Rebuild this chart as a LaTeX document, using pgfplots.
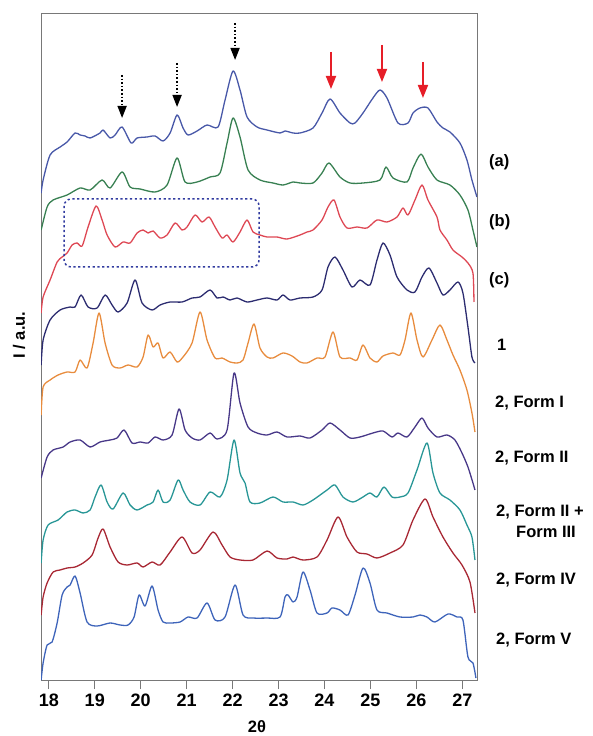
\documentclass[border=0pt]{standalone}
\usepackage{fontspec}
\setmainfont{Liberation Sans}
\usepackage{pgfplots}
\pgfplotsset{compat=1.18}
\usetikzlibrary{arrows.meta}
\definecolor{ca}{RGB}{72,88,168}
\definecolor{cb}{RGB}{56,128,82}
\definecolor{cc}{RGB}{222,72,84}
\definecolor{cd}{RGB}{44,44,112}
\definecolor{ce}{RGB}{232,140,62}
\definecolor{cf}{RGB}{72,56,136}
\definecolor{cg}{RGB}{40,150,150}
\definecolor{ch}{RGB}{168,40,52}
\definecolor{ci}{RGB}{62,100,186}
\definecolor{arrowred}{RGB}{230,30,40}
\definecolor{boxblue}{RGB}{50,60,160}
\definecolor{axisgray}{RGB}{120,120,120}
\begin{document}
\begin{tikzpicture}
\useasboundingbox (0,0) rectangle (592pt,736pt);
\begin{axis}[
  at={(41pt,56pt)}, anchor=south west,
  width=436pt, height=667pt, scale only axis,
  xmin=17.83, xmax=27.32, ymin=0, ymax=667,
  axis line style={draw=axisgray, line width=0.9pt},
  xtick={18,19,20,21,22,23,24,25,26,27}, ytick=\empty,
  xtick pos=bottom, xtick align=outside, major tick length=9pt,
  tick style={draw=axisgray, line width=0.9pt},
  /pgf/number format/assume math mode=true,
  xticklabel style={font=\fontsize{18}{18}\selectfont\bfseries, yshift=-1pt},
  every axis plot/.append style={line width=1.3pt, smooth, tension=0.45, line join=round},
]
% (a)
\addplot[ca] coordinates {(17.833,487)(17.876,500)(18.028,525)(18.246,533)(18.398,538)(18.572,547)(18.681,545)(18.790,544)(18.899,542)(19.116,547)(19.182,550)(19.334,542)(19.443,545)(19.595,553)(19.791,537)(19.921,542)(20.139,543)(20.313,544)(20.487,539)(20.640,547)(20.792,565)(20.922,552)(21.031,545)(21.227,549)(21.444,555)(21.684,553)(21.836,580)(22.010,609)(22.162,590)(22.315,563)(22.532,553)(22.750,550)(23.033,547)(23.141,549)(23.316,547)(23.468,547)(23.751,552)(23.947,567)(24.121,581)(24.338,567)(24.556,557)(24.665,557)(24.839,567)(25.056,582)(25.209,590)(25.361,582)(25.600,557)(25.818,557)(25.927,567)(26.079,572)(26.253,572)(26.449,558)(26.579,552)(26.731,548)(26.949,537)(27.101,520)(27.210,500)(27.319,483)};
% (b)
\addplot[cb] coordinates {(17.833,450)(17.963,473)(18.094,480)(18.398,485)(18.681,492)(18.899,490)(19.160,500)(19.334,492)(19.595,508)(19.769,493)(19.987,491)(20.313,488)(20.574,495)(20.792,522)(20.966,498)(21.227,498)(21.510,503)(21.727,507)(21.880,537)(22.010,562)(22.162,543)(22.337,510)(22.597,500)(22.880,497)(23.098,495)(23.316,498)(23.468,497)(23.751,497)(23.947,507)(24.099,517)(24.338,503)(24.556,497)(24.839,497)(25.209,500)(25.339,513)(25.492,502)(25.796,498)(25.927,512)(26.101,526)(26.253,513)(26.449,500)(26.731,495)(26.949,485)(27.123,470)(27.232,450)(27.319,433)};
% (c)
\addplot[cc] coordinates {(17.833,367)(17.876,383)(18.028,400)(18.181,418)(18.290,423)(18.398,427)(18.507,435)(18.616,437)(18.725,434)(18.855,453)(19.029,474)(19.160,460)(19.269,445)(19.443,433)(19.617,438)(19.769,437)(19.921,447)(20.052,450)(20.161,447)(20.270,449)(20.422,442)(20.574,445)(20.748,457)(20.900,450)(21.009,453)(21.183,465)(21.336,458)(21.488,463)(21.619,453)(21.771,442)(21.880,445)(22.010,438)(22.162,448)(22.315,460)(22.445,448)(22.597,445)(22.750,443)(22.967,443)(23.185,441)(23.468,445)(23.620,448)(23.751,450)(23.947,460)(24.077,473)(24.208,480)(24.338,463)(24.490,452)(24.708,453)(24.926,452)(25.143,460)(25.361,458)(25.579,463)(25.709,472)(25.818,465)(25.970,480)(26.123,495)(26.253,480)(26.449,463)(26.514,450)(26.666,440)(26.797,430)(26.993,423)(27.123,417)(27.232,407)(27.254,378)};
% 1
\addplot[cd] coordinates {(17.833,315)(17.876,340)(18.028,360)(18.246,370)(18.464,373)(18.572,373)(18.703,385)(18.855,373)(19.051,372)(19.225,385)(19.377,375)(19.508,368)(19.704,377)(19.878,400)(20.030,377)(20.248,370)(20.422,375)(20.640,378)(20.900,378)(21.118,382)(21.292,383)(21.510,390)(21.662,382)(21.793,383)(21.945,380)(22.097,382)(22.315,378)(22.532,380)(22.750,382)(22.967,380)(23.098,385)(23.250,380)(23.468,382)(23.751,383)(23.947,390)(24.077,413)(24.229,423)(24.403,410)(24.599,393)(24.773,400)(24.991,395)(25.143,420)(25.274,437)(25.426,425)(25.579,403)(25.796,390)(25.970,388)(26.123,403)(26.275,412)(26.449,397)(26.579,385)(26.731,390)(26.906,398)(27.014,387)(27.123,353)(27.210,323)(27.276,317)};
% 2, Form I
\addplot[ce] coordinates {(17.833,265)(17.876,293)(18.028,300)(18.202,305)(18.398,308)(18.572,308)(18.681,320)(18.833,312)(18.964,337)(19.094,367)(19.225,337)(19.377,315)(19.551,312)(19.725,315)(19.921,313)(20.052,323)(20.161,345)(20.270,333)(20.378,337)(20.487,322)(20.640,328)(20.792,318)(20.922,323)(21.118,337)(21.292,368)(21.444,340)(21.619,322)(21.771,322)(21.945,318)(22.097,317)(22.228,320)(22.337,337)(22.467,356)(22.597,332)(22.750,323)(22.880,322)(23.098,327)(23.294,324)(23.468,318)(23.620,317)(23.838,322)(24.012,323)(24.186,348)(24.338,323)(24.556,322)(24.708,320)(24.839,335)(24.991,322)(25.143,318)(25.274,324)(25.492,327)(25.644,325)(25.753,340)(25.883,367)(26.014,340)(26.144,323)(26.340,340)(26.514,355)(26.666,340)(26.797,325)(26.949,310)(27.101,290)(27.210,267)(27.276,248)};
% 2, Form II
\addplot[cf] coordinates {(17.833,202)(17.963,223)(18.094,230)(18.311,233)(18.464,238)(18.681,240)(18.899,233)(19.116,238)(19.334,240)(19.486,242)(19.639,250)(19.812,237)(19.987,238)(20.161,237)(20.313,243)(20.487,240)(20.683,245)(20.835,271)(20.966,250)(21.118,242)(21.292,240)(21.510,247)(21.662,241)(21.880,250)(22.032,307)(22.162,277)(22.337,253)(22.532,247)(22.750,245)(22.967,248)(23.185,243)(23.468,244)(23.686,242)(23.947,250)(24.121,257)(24.338,250)(24.556,242)(24.773,243)(25.056,247)(25.274,249)(25.470,243)(25.600,247)(25.796,243)(25.970,253)(26.123,262)(26.253,252)(26.449,243)(26.666,245)(26.840,240)(26.993,227)(27.123,213)(27.232,197)(27.276,190)};
% 2, Form II + Form III
\addplot[cg] coordinates {(17.833,117)(17.876,140)(17.985,155)(18.202,160)(18.398,168)(18.572,170)(18.746,167)(18.899,170)(19.007,183)(19.138,195)(19.269,178)(19.399,171)(19.617,187)(19.769,175)(19.921,170)(20.139,175)(20.270,178)(20.378,190)(20.487,178)(20.640,180)(20.814,200)(20.922,190)(21.074,178)(21.292,175)(21.510,188)(21.727,183)(21.880,200)(22.032,240)(22.162,207)(22.271,197)(22.380,178)(22.597,177)(22.880,183)(23.098,178)(23.316,178)(23.533,175)(23.751,180)(24.056,190)(24.229,195)(24.403,183)(24.621,178)(24.839,183)(24.991,187)(25.143,183)(25.296,193)(25.470,183)(25.644,183)(25.818,187)(26.014,210)(26.231,237)(26.362,207)(26.514,187)(26.731,180)(26.949,170)(27.101,155)(27.210,143)(27.276,120)};
% 2, Form IV
\addplot[ch] coordinates {(17.833,65)(17.876,83)(17.963,97)(18.094,108)(18.246,110)(18.398,112)(18.572,113)(18.746,117)(18.942,125)(19.073,142)(19.182,151)(19.334,133)(19.508,118)(19.704,115)(19.921,117)(20.052,113)(20.248,118)(20.422,115)(20.640,128)(20.900,143)(21.118,127)(21.292,130)(21.575,148)(21.771,135)(21.945,123)(22.162,120)(22.445,120)(22.750,129)(22.967,122)(23.185,121)(23.316,123)(23.533,120)(23.838,123)(24.056,140)(24.295,163)(24.490,143)(24.708,128)(24.926,126)(25.143,122)(25.426,127)(25.709,135)(25.927,160)(26.188,181)(26.362,163)(26.579,143)(26.797,127)(26.993,115)(27.167,98)(27.276,67)};
% 2, Form V
\addplot[ci] coordinates {(17.833,0)(17.876,17)(17.963,35)(18.072,38)(18.181,57)(18.290,85)(18.398,93)(18.464,95)(18.572,104)(18.681,87)(18.833,58)(19.051,54)(19.334,57)(19.551,55)(19.725,55)(19.856,63)(19.965,85)(20.095,74)(20.248,94)(20.378,70)(20.487,58)(20.640,57)(20.857,58)(21.031,63)(21.227,62)(21.444,77)(21.619,60)(21.836,63)(22.054,95)(22.228,65)(22.445,62)(22.750,62)(23.033,63)(23.141,83)(23.207,85)(23.316,78)(23.403,83)(23.533,108)(23.686,90)(23.838,67)(24.056,67)(24.164,72)(24.338,70)(24.512,65)(24.665,85)(24.839,112)(24.991,97)(25.143,70)(25.361,67)(25.644,63)(25.927,63)(26.079,65)(26.231,63)(26.405,58)(26.688,66)(26.884,63)(27.014,60)(27.123,23)(27.232,17)(27.297,2)};
% markers
\draw[black, line width=1.6pt, dash pattern=on 1.6pt off 2pt, -{Triangle[length=12pt,width=9pt]}] (axis cs:19.595,605) -- (axis cs:19.595,562);
\draw[black, line width=1.6pt, dash pattern=on 1.6pt off 2pt, -{Triangle[length=12pt,width=9pt]}] (axis cs:20.792,617) -- (axis cs:20.792,573);
\draw[black, line width=1.6pt, dash pattern=on 1.6pt off 2pt, -{Triangle[length=12pt,width=9pt]}] (axis cs:22.054,657) -- (axis cs:22.054,620);
\draw[arrowred, line width=1.8pt, -{Triangle[length=13pt,width=10pt]}] (axis cs:24.142,628) -- (axis cs:24.142,591);
\draw[arrowred, line width=1.8pt, -{Triangle[length=13pt,width=10pt]}] (axis cs:25.252,635) -- (axis cs:25.252,598);
\draw[arrowred, line width=1.8pt, -{Triangle[length=13pt,width=10pt]}] (axis cs:26.144,618) -- (axis cs:26.144,582);
\draw[boxblue, line width=1.5pt, dash pattern=on 2.2pt off 2.6pt, rounded corners=7pt] (axis cs:18.333,481) rectangle (axis cs:22.576,413);
\end{axis}
\begin{scope}[every node/.style={anchor=west, inner sep=0pt, font=\fontsize{16.5}{18}\selectfont\bfseries}]
\node at (489pt,574pt) {(a)};
\node at (489pt,514pt) {(b)};
\node at (489pt,456pt) {(c)};
\node at (497pt,391pt) {1};
\node at (495pt,333pt) {2, Form I};
\node at (495pt,278pt) {2, Form II};
\node at (496pt,224pt) {2, Form II +};
\node at (516pt,204pt) {Form III};
\node at (496pt,156pt) {2, Form IV};
\node at (496pt,96pt) {2, Form V};
\end{scope}
\node[rotate=90, inner sep=0pt, font=\fontsize{16.5}{18}\selectfont\bfseries] at (19pt,401pt) {I / a.u.};
\node[inner sep=0pt, font=\fontsize{16.5}{18}\selectfont\bfseries] at (257pt,9pt) {2θ};
\end{tikzpicture}
\end{document}
